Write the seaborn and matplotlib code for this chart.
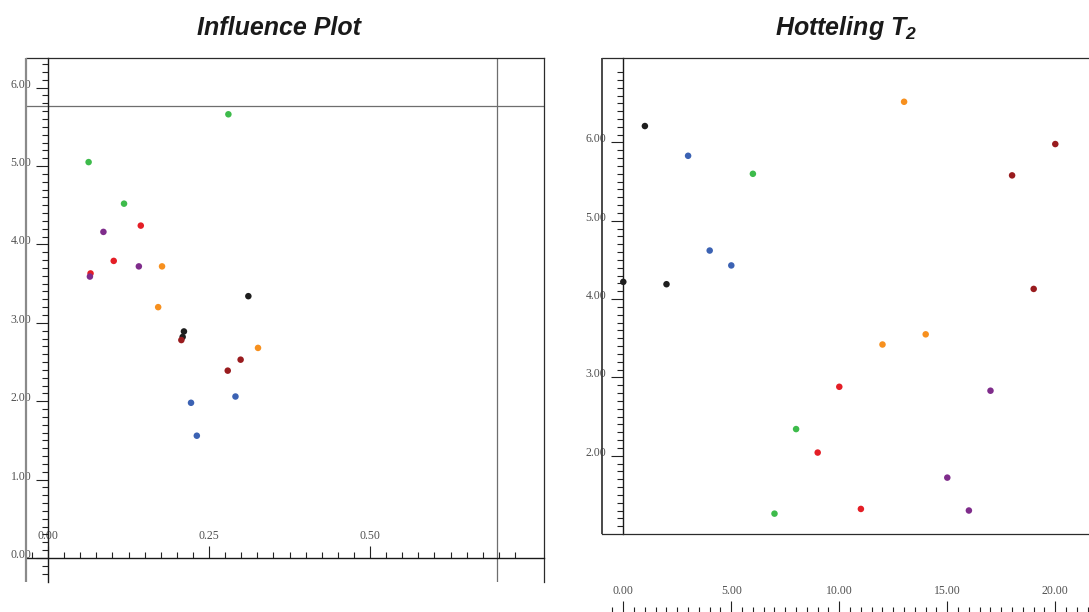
import numpy as np
import pandas as pd
import matplotlib
matplotlib.use("Agg")
import matplotlib.pyplot as plt
from matplotlib.ticker import FixedLocator, FormatStrFormatter, NullFormatter
import seaborn as sns

# ---- data -------------------------------------------------------------
group_names = ["g1", "g2", "g3", "g4", "g5", "g6", "g7"]
group_colors = ["#1e1e1e", "#3b62b3", "#3dbb4b", "#e41e26", "#f7901e", "#7f2c8b", "#991b1e"]

# Influence plot: leverage vs. distance, three observations per group
infl_group = ["g1"] * 3 + ["g2"] * 3 + ["g3"] * 3 + ["g4"] * 3 + ["g5"] * 3 + ["g6"] * 3 + ["g7"] * 3
infl_leverage = [0.311, 0.211, 0.209,
                 0.291, 0.222, 0.231,
                 0.280, 0.063, 0.118,
                 0.144, 0.102, 0.066,
                 0.177, 0.171, 0.326,
                 0.086, 0.141, 0.065,
                 0.207, 0.299, 0.279]
infl_distance = [3.34, 2.89, 2.82,
                 2.06, 1.98, 1.56,
                 5.66, 5.05, 4.52,
                 4.24, 3.79, 3.63,
                 3.72, 3.20, 2.68,
                 4.16, 3.72, 3.59,
                 2.78, 2.53, 2.39]
infl_distance_limit = 5.76
infl_leverage_limit = 0.697

# Hotelling T2 per observation
t2_obs = [0, 1, 2, 3, 4, 5, 6, 7, 8, 9, 10, 11, 12, 13, 14, 15, 16, 17, 18, 19, 20]
t2_group = infl_group
t2_value = [4.22, 6.21, 4.19,
            5.83, 4.62, 4.43,
            5.60, 1.26, 2.34,
            2.04, 2.88, 1.32,
            3.42, 6.52, 3.55,
            1.72, 1.30, 2.83,
            5.58, 4.13, 5.98]

infl_df = pd.DataFrame({"leverage": infl_leverage, "distance": infl_distance, "group": infl_group})
t2_df = pd.DataFrame({"obs": t2_obs, "t2": t2_value, "group": t2_group})
palette = dict(zip(group_names, group_colors))

# ---- style ------------------------------------------------------------
sns.set_style("white")
plt.rcParams["font.family"] = ["Liberation Serif", "DejaVu Serif"]
plt.rcParams["mathtext.fontset"] = "custom"
plt.rcParams["mathtext.rm"] = "Liberation Sans:italic:bold"
plt.rcParams["mathtext.it"] = "Liberation Sans:italic:bold"
plt.rcParams["mathtext.bf"] = "Liberation Sans:italic:bold"

W, H = 1089, 612
fig = plt.figure(figsize=(W / 100, H / 100), dpi=100)
fig.patch.set_facecolor("white")

LABEL_KW = dict(labelsize=8.5, labelcolor="#505050", colors="#222222", width=0.8)
DARK = "#2b2b2b"
GREY = "#8a8a8a"


def px_axes(x0, y0, x1, y1):
    """Axes placed by pixel box (left, top, right, bottom)."""
    return fig.add_axes([x0 / W, 1 - y1 / H, (x1 - x0) / W, (y1 - y0) / H])


def frame_line(ax, xs, ys, color, lw):
    ax.plot(xs, ys, transform=ax.transAxes, color=color, lw=lw,
            clip_on=False, solid_capstyle="butt", zorder=5)


def style_y(ax, minor, major):
    ax.yaxis.set_major_locator(FixedLocator(major))
    ax.yaxis.set_minor_locator(FixedLocator(minor))
    ax.yaxis.set_major_formatter(FormatStrFormatter("%.2f"))
    ax.yaxis.set_minor_formatter(NullFormatter())
    ax.tick_params(axis="y", which="both", left=True, right=False)
    ax.tick_params(axis="y", which="major", direction="out", length=8.6, pad=3.5, **LABEL_KW)
    ax.tick_params(axis="y", which="minor", direction="out", length=4.4, width=0.8, colors="#222222")
    plt.setp(ax.get_yticklabels(), va="baseline")


def style_x(ax, minor, major, pad):
    ax.xaxis.set_major_locator(FixedLocator(major))
    ax.xaxis.set_minor_locator(FixedLocator(minor))
    ax.xaxis.set_major_formatter(FormatStrFormatter("%.2f"))
    ax.xaxis.set_minor_formatter(NullFormatter())
    ax.tick_params(axis="x", which="both", bottom=True, top=False)
    ax.tick_params(axis="x", which="major", direction="in", length=8.3, pad=pad, **LABEL_KW)
    ax.tick_params(axis="x", which="minor", direction="in", length=4.0, width=0.8, colors="#222222")
    plt.setp(ax.get_xticklabels(), va="bottom")


# ---- Influence plot ---------------------------------------------------
ax1 = px_axes(26, 58, 544, 582)
sns.scatterplot(data=infl_df, x="leverage", y="distance", hue="group", palette=palette,
                s=22, linewidth=0, legend=False, ax=ax1, zorder=4)
ax1.set_xlim(-0.0342, 0.770)
ax1.set_ylim(-0.306, 6.378)
ax1.axhline(infl_distance_limit, color="#6e6e6e", lw=0.9, zorder=2)
ax1.axvline(infl_leverage_limit, color="#6e6e6e", lw=0.9, zorder=2)

ax1.spines["left"].set_position(("data", 0))
ax1.spines["bottom"].set_position(("data", 0))
for side in ("left", "bottom"):
    ax1.spines[side].set_color("#1a1a1a")
    ax1.spines[side].set_linewidth(1.0)
for side in ("top", "right"):
    ax1.spines[side].set_color(DARK)
    ax1.spines[side].set_linewidth(0.9)
frame_line(ax1, [0, 0], [0, 1], GREY, 1.6)

style_y(ax1, np.round(np.arange(-0.2, 6.31, 0.1), 2), [0, 1, 2, 3, 4, 5, 6])
style_x(ax1, np.round(np.arange(-0.025, 0.726, 0.025), 3), [0.0, 0.25, 0.50], -11.5)
ax1.set_xlabel("")
ax1.set_ylabel("")

# ---- Hotelling T2 -----------------------------------------------------
ax2 = px_axes(602, 58, 1100, 534)
sns.scatterplot(data=t2_df, x="obs", y="t2", hue="group", palette=palette,
                s=22, linewidth=0, legend=False, ax=ax2, zorder=4)
ax2.set_xlim(-0.986, 22.07)
ax2.set_ylim(1.0, 7.079)
ax2.spines["left"].set_position(("data", 0))
ax2.spines["left"].set_color("#1a1a1a")
ax2.spines["left"].set_linewidth(1.0)
for side in ("top", "right", "bottom"):
    ax2.spines[side].set_color(DARK)
    ax2.spines[side].set_linewidth(0.9)
frame_line(ax2, [0, 0], [0, 1], "#3a3a3a", 1.3)
style_y(ax2, np.round(np.arange(1.1, 6.91, 0.1), 2), [2, 3, 4, 5, 6])
ax2.tick_params(axis="x", which="both", bottom=False, labelbottom=False)
ax2.set_xlabel("")
ax2.set_ylabel("")

# detached observation axis along the bottom edge
ax3 = px_axes(602, 590, 1100, 612.5)
ax3.set_xlim(ax2.get_xlim())
ax3.set_ylim(0, 1)
ax3.patch.set_alpha(0)
for side in ax3.spines:
    ax3.spines[side].set_visible(False)
ax3.yaxis.set_visible(False)
style_x(ax3, np.round(np.arange(-0.5, 21.6, 0.5), 1), [0, 5, 10, 15, 20], -10.8)

# ---- titles -----------------------------------------------------------
title_kw = dict(family="Liberation Sans", weight="bold", style="italic", fontsize=18,
                ha="center", va="center", color="#1a1a1a")
fig.text(279 / W, 1 - 28 / H, "Influence Plot", **title_kw)
fig.text(846 / W, 1 - 28 / H, r"Hotteling T$_{\mathrm{2}}$", **title_kw)

fig.savefig("out.png", dpi=100)
